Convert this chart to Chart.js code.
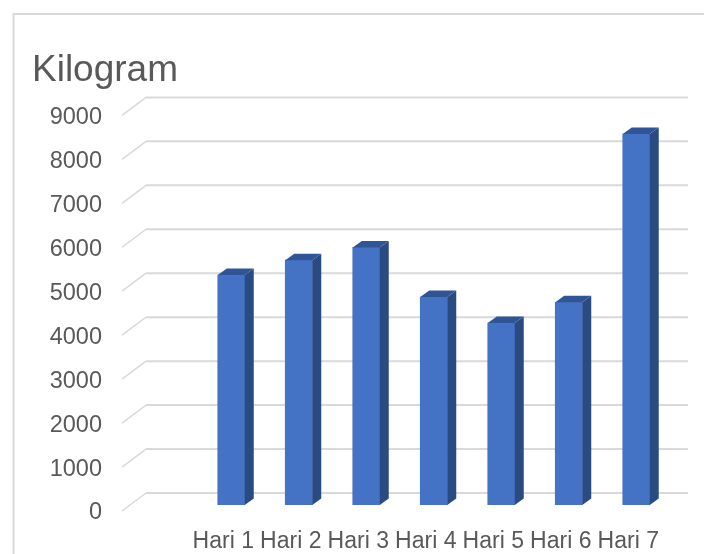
<!DOCTYPE html>
<html>
<head>
<meta charset="utf-8">
<title>Kilogram</title>
<script src="https://cdn.jsdelivr.net/npm/chart.js@4"></script>
<style>
  html, body { margin: 0; padding: 0; background: #fff; overflow: hidden; }
  canvas { display: block; }
</style>
</head>
<body>
<canvas id="grafik" width="704" height="554"></canvas>
<script>
// first slot is empty in the original chart
const categories = ['', 'Hari 1', 'Hari 2', 'Hari 3', 'Hari 4', 'Hari 5', 'Hari 6', 'Hari 7'];
const kilogram = [null, 5230, 5570, 5860, 4730, 4140, 4610, 8440];
const yTicks = [0, 1000, 2000, 3000, 4000, 5000, 6000, 7000, 8000, 9000];

const warnaDepan = '#4472C4';
const warnaSisi = '#2A4A82';
const warnaAtas = '#2F5597';
const warnaGrid = '#D9D9D9';
const warnaTeks = '#595959';

// depth of the fake 3d box
const dalamX = 24, dalamY = 18;
const barX = 8, barY = 8;
const sisiX = 9, sisiY = 6.5;
// tick labels sit a bit lower than the lines
const geser = 2;

const efek3d = {
  id: 'efek3d',
  beforeDraw(chart) {
    const ctx = chart.ctx;
    ctx.save();
    ctx.strokeStyle = warnaGrid;
    ctx.lineWidth = 2;
    ctx.beginPath();
    ctx.moveTo(704, 14);
    ctx.lineTo(13.5, 14);
    ctx.lineTo(13.5, 554);
    ctx.stroke();

    const { x, y } = chart.scales;
    yTicks.forEach(t => {
      const py = y.getPixelForValue(t) - geser;
      ctx.lineWidth = 1.5;
      ctx.beginPath();
      ctx.moveTo(x.left, py);
      ctx.lineTo(x.left + dalamX, py - dalamY);
      ctx.stroke();
      ctx.lineWidth = 2;
      ctx.beginPath();
      ctx.moveTo(x.left + dalamX, py - dalamY);
      ctx.lineTo(x.right + dalamX + 2, py - dalamY);
      ctx.stroke();
    });
    ctx.restore();
  },
  beforeDatasetsDraw(chart) {
    chart.ctx.save();
    chart.ctx.translate(barX, -barY);
  },
  afterDatasetsDraw(chart) {
    const ctx = chart.ctx;
    chart.getDatasetMeta(0).data.forEach((bar, i) => {
      if (kilogram[i] == null) return;
      const kiri = bar.x - bar.width / 2;
      const kanan = bar.x + bar.width / 2;
      ctx.fillStyle = warnaSisi;
      ctx.beginPath();
      ctx.moveTo(kanan, bar.y);
      ctx.lineTo(kanan + sisiX, bar.y - sisiY);
      ctx.lineTo(kanan + sisiX, bar.base - sisiY);
      ctx.lineTo(kanan, bar.base);
      ctx.closePath();
      ctx.fill();
      ctx.fillStyle = warnaAtas;
      ctx.beginPath();
      ctx.moveTo(kiri, bar.y);
      ctx.lineTo(kiri + sisiX, bar.y - sisiY);
      ctx.lineTo(kanan + sisiX, bar.y - sisiY);
      ctx.lineTo(kanan, bar.y);
      ctx.closePath();
      ctx.fill();
    });
    ctx.restore();
  }
};

new Chart(document.getElementById('grafik'), {
  type: 'bar',
  data: {
    labels: categories,
    datasets: [{
      label: 'Kilogram',
      data: kilogram,
      backgroundColor: warnaDepan,
      barThickness: 27
    }]
  },
  plugins: [efek3d],
  options: {
    responsive: false,
    animation: false,
    layout: { padding: { left: 32, right: 42, top: 0, bottom: 0 } },
    plugins: {
      legend: { display: false },
      tooltip: { enabled: false },
      title: {
        display: true,
        text: 'Kilogram',
        align: 'start',
        color: warnaTeks,
        font: { family: '"Liberation Sans", Arial, sans-serif', size: 37, weight: 'normal' },
        padding: { top: 49, bottom: 24 }
      }
    },
    scales: {
      x: {
        grid: { display: false },
        border: { display: false },
        afterFit: s => { s.height = 41; },
        ticks: {
          color: warnaTeks,
          font: { family: '"Liberation Sans", Arial, sans-serif', size: 23 },
          autoSkip: false,
          maxRotation: 0,
          padding: 7
        }
      },
      y: {
        min: 0,
        max: 9000,
        grid: { display: false },
        border: { display: false },
        afterFit: s => { s.width = 90; },
        afterBuildTicks: s => { s.ticks = yTicks.map(v => ({ value: v })); },
        ticks: {
          color: warnaTeks,
          font: { family: '"Liberation Sans", Arial, sans-serif', size: 23.5 },
          padding: 12,
          callback: v => String(v)
        }
      }
    }
  }
});
</script>
</body>
</html>
